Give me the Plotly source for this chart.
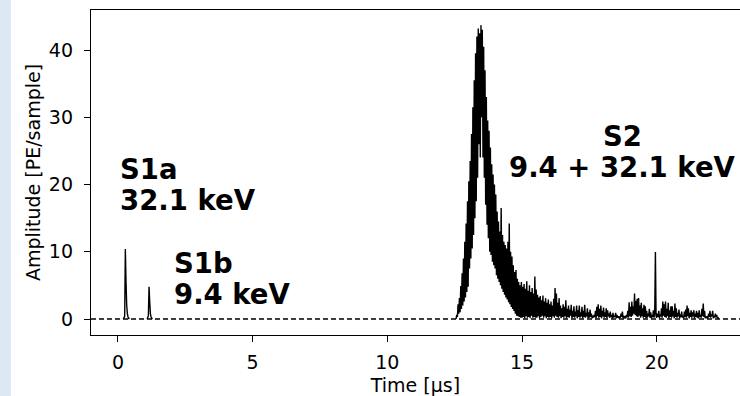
import numpy as np
import plotly.graph_objects as go

# ---------------- data ----------------
S1A_START, S1A_DT = 0.20, 0.025
s1a_vals = [0.0, 0.2, 0.4, 10.4, 5.5, 2.0, 0.8, 0.3, 0.1, 0.0]

S1B_START, S1B_DT = 1.08, 0.025
s1b_vals = [0.0, 0.2, 0.5, 4.8, 2.5, 0.8, 0.3, 0.1, 0.0]

S2_START, S2_DT = 12.55, 0.025
s2_vals = [
    0, 0.6, 0.3, 2.2, 0.8, 3.1, 1.0, 4.9, 1.5, 6.8, 2.0, 9.0, 2.6, 11.5, 3.2, 14.2, 4.0, 17.5, 4.8, 20.5,
    7.5, 23.5, 9.0, 27.5, 10.5, 31.5, 12.5, 35.5, 15.0, 39.5, 17.5, 42.0, 21.0, 43.2, 26.0, 42.5, 24.0, 43.7, 30.0, 43.0,
    24, 40.5, 21, 37, 17, 33, 14, 29.5, 12, 28, 10, 25.5, 9.5, 23, 8.5, 21.5, 8, 20, 7.5, 18.5,
    6.5, 16.0, 6.0, 14.5, 5.5, 13.0, 5.0, 16.5, 4.5, 12.5, 4.0, 11.5, 3.6, 11.0, 3.2, 10.5, 2.9, 11.5, 2.5, 14.2,
    2.2, 10.0, 1.8, 9.3, 1.5, 8.0, 1.2, 7.0, 0.8, 7.3, 0.5, 6.0, 0.4, 5.5, 0.3, 5.0, 0.2, 5.5, 0.2, 4.8,
    0.3, 5.2, 0.1, 4.5, 0.4, 5.6, 0.2, 4.2, 0.3, 5.0, 0.1, 4.0, 0.5, 4.6, 0.2, 3.8, 0.3, 6.3, 0.2, 4.4,
    0.2, 3.6, 0.4, 3.2, 0.1, 3.4, 0.3, 2.8, 0.5, 3.5, 0.2, 2.6, 0.4, 3.1, 0.1, 2.4, 0.3, 2.9, 0.2, 2.2,
    0.3, 2.6, 0.1, 2.0, 0.4, 3.0, 0.2, 4.6, 0.5, 3.8, 0.3, 2.4, 0.2, 3.1, 0.4, 2.0, 0.1, 1.6, 0.3, 2.2,
    0.2, 1.8, 0.4, 2.8, 0.1, 1.5, 0.3, 2.0, 0.2, 1.4, 0.5, 2.1, 0.1, 1.2, 0.3, 1.9, 0.2, 1.1, 0.4, 2.0,
    0.1, 1.3, 0.3, 2.0, 0.2, 1.0, 0.4, 1.8, 0.1, 1.2, 0.3, 2.1, 0.2, 0.9, 0.4, 1.6, 0.1, 1.0, 0.2, 1.4,
    0.3, 0.8, 0.1, 0.5, 0.2, 0.6, 0.3, 1.2, 0.1, 1.8, 0.4, 2.2, 0.2, 1.5, 0.3, 2.0, 0.1, 1.2, 0.4, 1.7,
    0.2, 1.0, 0.3, 1.6, 0.1, 1.3, 0.4, 0.8, 0.2, 1.1, 0.3, 0.6, 0.1, 0.9, 0.2, 0.5, 0.3, 0.9, 0.1, 0.6,
    0.2, 0.4, 0.1, 0.3, 0.2, 0.8, 0.3, 1.1, 0.1, 0.5, 0.2, 0.3, 0.1, 0.6, 0.3, 1.2, 0.2, 2.5, 0.4, 1.8,
    0.3, 2.6, 0.5, 1.9, 0.8, 3.8, 0.6, 2.7, 0.4, 3.0, 0.3, 3.1, 0.5, 2.0, 0.2, 2.4, 0.4, 1.6, 0.2, 2.1,
    0.3, 1.9, 0.1, 1.2, 0.2, 0.8, 0.4, 1.5, 0.2, 1.0, 0.1, 0.6, 0.3, 1.3, 0.2, 0.9, 9.95, 0.4, 0.2, 0.8,
    0.3, 1.2, 0.1, 0.7, 0.4, 1.6, 0.2, 2.6, 0.5, 2.2, 0.3, 2.6, 0.2, 1.5, 0.4, 2.4, 0.1, 1.3, 0.3, 1.9,
    0.2, 1.9, 0.4, 1.2, 0.1, 2.3, 0.3, 1.6, 0.2, 0.9, 0.4, 1.4, 0.1, 0.7, 0.3, 1.1, 0.2, 0.5, 0.1, 1.1,
    0.3, 1.4, 0.2, 2.0, 0.4, 1.6, 0.1, 0.9, 0.3, 1.3, 0.2, 1.0, 0.4, 1.3, 0.1, 0.8, 0.3, 1.2, 0.2, 0.9,
    0.1, 1.3, 0.3, 0.6, 0.2, 1.5, 0.4, 2.3, 0.3, 1.2, 0.1, 0.4, 0.2, 0.3, 0.1, 0.8, 0.3, 1.2, 0.2, 0.7,
    0.4, 1.2, 0.1, 0.5, 0.2, 0.8, 0.3, 0.6, 0.1, 0.2, 0.0,
]

x_ticks = [0, 5, 10, 15, 20]
y_ticks = [0, 10, 20, 30, 40]
x_range = [-1.0, 23.09]
y_range = [-2.38, 45.95]

labels = [
    # (x, y, first line, second line, anchor)
    (0, 15, "S1a", "32.1 keV", "left"),
    (2, 1, "S1b", "9.4 keV", "left"),
    (18.72, 20, "S2", "9.4 + 32.1 keV", "center"),
]

# ---------------- build ----------------
def seg(start, dt, vals):
    t = start + dt * np.arange(len(vals))
    return list(t), list(vals)

xs, ys = [], []
for start, dt, vals in [(S1A_START, S1A_DT, s1a_vals),
                        (S1B_START, S1B_DT, s1b_vals),
                        (S2_START, S2_DT, s2_vals)]:
    t, v = seg(start, dt, vals)
    xs += t + [None]
    ys += v + [None]

FONT = "DejaVu Sans"

fig = go.Figure()
fig.add_trace(go.Scatter(
    x=xs, y=ys, mode="lines", connectgaps=False,
    line=dict(color="black", width=1.4, simplify=False),
    hoverinfo="skip", showlegend=False,
))

# dashed baseline
fig.add_shape(type="line", xref="paper", x0=0, x1=1, yref="y", y0=0, y1=0,
              line=dict(color="black", width=1.5, dash="5px,3px"), layer="above")

# light blue strip on the far left of the page
W, H = 740, 396
ML, MR, MT, MB = 91, 0, 10, 61
pw, ph = W - ML - MR, H - MT - MB
fig.add_shape(type="rect", xref="paper", yref="paper",
              x0=-ML / pw, x1=(11 - ML) / pw, y0=-MB / ph, y1=1 + MT / ph,
              fillcolor="#dde8f4", line=dict(width=0), layer="below")

for x, y, l1, l2, anc in labels:
    for txt, shift in [(l2, 0), (l1, 31)]:
        fig.add_annotation(x=x, y=y, text=f"<b>{txt}</b>", showarrow=False,
                           xanchor=anc, yanchor="bottom", yshift=shift,
                           font=dict(family=FONT, size=27.5, color="black"))

axis_common = dict(
    showline=True, linecolor="black", linewidth=1.3,
    ticks="outside", ticklen=6, tickwidth=1.3, tickcolor="black",
    showgrid=False, zeroline=False,
    tickfont=dict(family=FONT, size=19, color="black"),
)
fig.update_xaxes(range=x_range, tickvals=x_ticks, mirror=True,
                 title=dict(text="Time [µs]", font=dict(family=FONT, size=19, color="black"), standoff=6),
                 ticklabelstandoff=4, **axis_common)
fig.update_yaxes(range=y_range, tickvals=y_ticks, ticklabelstandoff=7,
                 title=dict(text="Amplitude [PE/sample]", font=dict(family=FONT, size=19, color="black"), standoff=3),
                 **axis_common)

fig.update_layout(
    width=W, height=H,
    margin=dict(l=ML, r=MR, t=MT, b=MB, pad=0),
    paper_bgcolor="white", plot_bgcolor="white",
    font=dict(family=FONT, color="black"),
)

fig.write_html(
    "out.html",
    config={"displayModeBar": False},
    post_script="document.body.style.margin='0';document.body.style.padding='0';"
                "document.body.style.overflow='hidden';",
)
